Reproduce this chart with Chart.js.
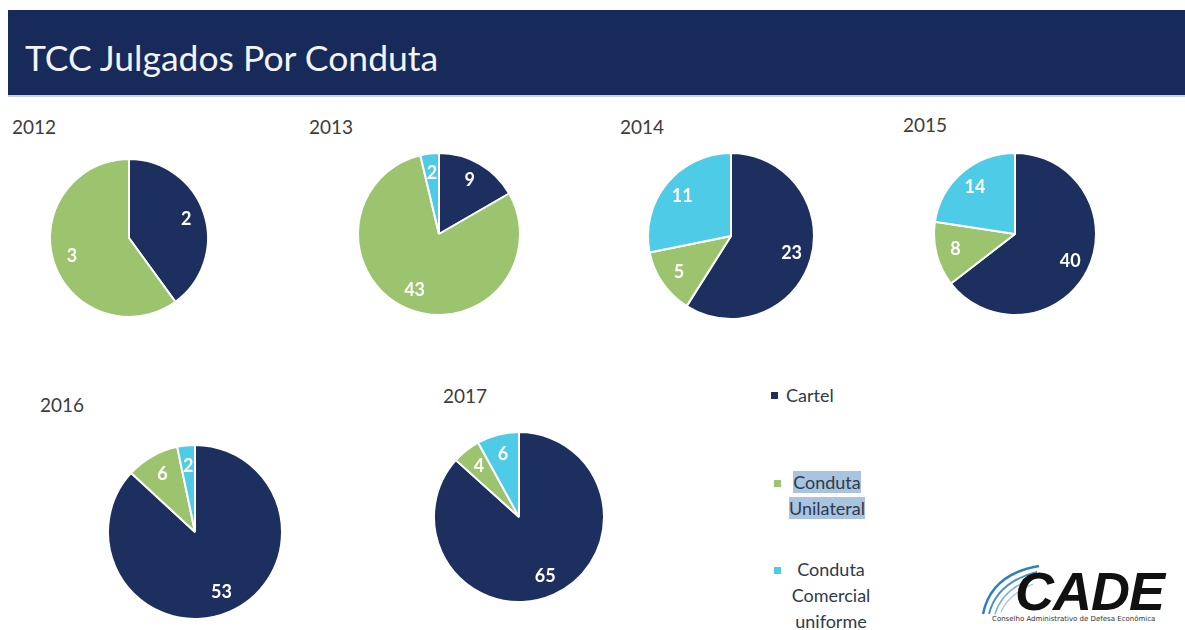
<!DOCTYPE html>
<html>
<head>
<meta charset="utf-8">
<script src="https://cdn.jsdelivr.net/npm/chart.js@4"></script>
<style>
  body { margin: 0; width: 1185px; height: 630px; background: #fff; position: relative; overflow: hidden; font-family: Lato, "Open Sans", sans-serif; }
  #bar { position: absolute; left: 8px; top: 10px; width: 1177px; height: 85px; background: #172a5a; border-bottom: 2px solid #c9d3e0; }
  #bar h1 { margin: 0; position: absolute; left: 17px; top: 30px; font-weight: 400; font-size: 35.5px; color: #f2f4f7; line-height: 1; }
  .pie { position: absolute; }
  .year { position: absolute; font-size: 19px; color: #3c3c3c; line-height: 1; }
  .leg { position: absolute; font-size: 18px; color: #2e3a4c; line-height: 26px; }
  .mark { position: absolute; width: 7px; height: 7px; }
  .hl { background: #a9c4de; }
  #logo { position: absolute; left: 975px; top: 560px; width: 205px; height: 65px; }
  #logo .cade { position: absolute; left: 40px; top: 4px; font-family: "Liberation Sans", Arial, sans-serif; font-weight: 700; font-style: italic; font-size: 54px; color: #111; letter-spacing: -1px; line-height: 1; }
  #logo .sub { position: absolute; left: 17px; top: 55px; font-size: 7px; color: #333; font-family: "DejaVu Sans", sans-serif; white-space: nowrap; }
</style>
</head>
<body>
<div id="bar"><h1>TCC Julgados Por Conduta</h1></div>

<div class="year" style="left:12px;top:117px">2012</div>
<div class="year" style="left:309px;top:117px">2013</div>
<div class="year" style="left:620px;top:117px">2014</div>
<div class="year" style="left:903px;top:115px">2015</div>
<div class="year" style="left:40px;top:395px">2016</div>
<div class="year" style="left:443px;top:386px">2017</div>

<div class="mark" style="left:771px;top:392px;background:#1c2f5f"></div>
<div class="leg" style="left:786px;top:382px">Cartel</div>
<div class="mark" style="left:774px;top:480px;background:#9cc46f"></div>
<div class="leg" style="left:789px;top:469px;text-align:center"><span class="hl">Conduta</span><br><span class="hl">Unilateral</span></div>
<div class="mark" style="left:774px;top:567px;background:#4ecbe6"></div>
<div class="leg" style="left:785px;top:556px;text-align:center;width:92px">Conduta<br>Comercial<br>uniforme</div>

<div id="logo">
  <svg width="80" height="60" style="position:absolute;left:0;top:0">
    <path d="M8 54 Q16 14 64 6" stroke="#2f7fc0" stroke-width="2.5" fill="none"/>
    <path d="M14 54 Q22 22 62 12" stroke="#4a90c8" stroke-width="2" fill="none"/>
    <path d="M20 54 Q28 28 60 18" stroke="#7fb0d8" stroke-width="1.5" fill="none"/>
    <path d="M26 52 Q34 34 58 24" stroke="#9fc2e0" stroke-width="1.2" fill="none"/>
  </svg>
  <div class="cade">CADE</div>
  <div class="sub">Conselho Administrativo de Defesa Econômica</div>
</div>

<script>
// data
const years = ["2012", "2013", "2014", "2015", "2016", "2017"];
const categories = ["Cartel", "Conduta Unilateral", "Conduta Comercial uniforme"];
const cartel = [2, 9, 23, 40, 53, 65];
const unilateral = [3, 43, 5, 8, 6, 4];
const comercial = [0, 2, 11, 14, 2, 6];

const colors = ["#1c2f5f", "#9cc46f", "#4ecbe6"];

// where each pie sits on the page: centre x, centre y, radius
const layout = [
  [129, 238, 79],
  [439, 234, 81],
  [731, 236, 83],
  [1015, 234, 81],
  [195, 532, 87],
  [519, 517, 85],
];

// draw the value inside each slice
const sliceLabels = {
  id: "sliceLabels",
  afterDatasetsDraw(chart) {
    const ctx = chart.ctx;
    const meta = chart.getDatasetMeta(0);
    const values = chart.data.datasets[0].data;
    ctx.save();
    ctx.fillStyle = "#ffffff";
    ctx.font = "bold 18px Lato, sans-serif";
    ctx.textAlign = "center";
    ctx.textBaseline = "middle";
    meta.data.forEach(function (arc, i) {
      if (!values[i]) return;
      const p = arc.getProps(["x", "y", "startAngle", "endAngle", "outerRadius"], true);
      const mid = (p.startAngle + p.endAngle) / 2;
      const r = p.outerRadius * 0.76;
      ctx.fillText(String(values[i]), p.x + Math.cos(mid) * r, p.y + Math.sin(mid) * r);
    });
    ctx.restore();
  },
};

years.forEach(function (year, i) {
  const [cx, cy, r] = layout[i];
  const size = 2 * r + 2;
  const box = document.createElement("div");
  box.className = "pie";
  box.style.left = cx - size / 2 + "px";
  box.style.top = cy - size / 2 + "px";
  box.style.width = size + "px";
  box.style.height = size + "px";
  const canvas = document.createElement("canvas");
  box.appendChild(canvas);
  document.body.appendChild(box);

  new Chart(canvas.getContext("2d"), {
    type: "pie",
    data: {
      labels: categories,
      datasets: [
        {
          label: year,
          data: [cartel[i], unilateral[i], comercial[i]],
          backgroundColor: colors,
          borderColor: "#ffffff",
          borderWidth: 2,
        },
      ],
    },
    options: {
      responsive: true,
      maintainAspectRatio: false,
      animation: false,
      plugins: {
        legend: { display: false },
        tooltip: { enabled: false },
      },
    },
    plugins: [sliceLabels],
  });
});
</script>
</body>
</html>
